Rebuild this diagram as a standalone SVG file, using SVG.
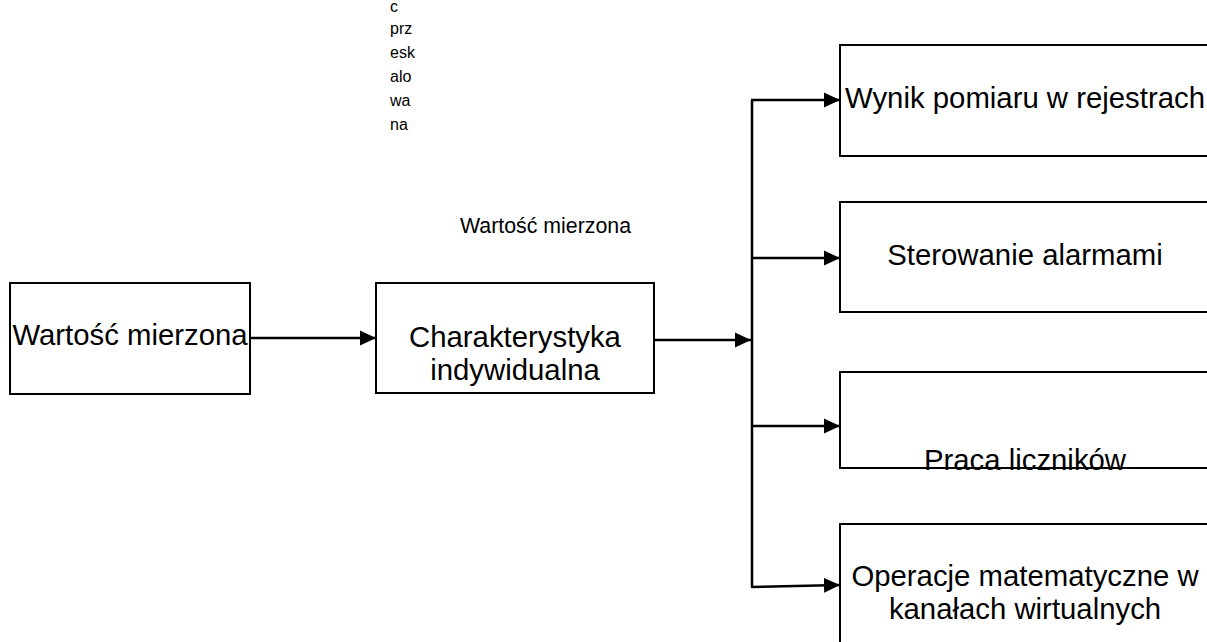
<svg xmlns="http://www.w3.org/2000/svg" width="1207" height="642" viewBox="0 0 1207 642">
<defs>
<style>
.box{fill:none;stroke:#000;stroke-width:2}
.t{font-family:"Liberation Sans",Arial,sans-serif;font-size:29.33px;fill:#000;text-anchor:middle}
.s{font-family:"Liberation Sans",Arial,sans-serif;font-size:21.33px;fill:#000}
.v{font-family:"Liberation Sans",Arial,sans-serif;font-size:16px;fill:#000}
.c{fill:none;stroke:#000;stroke-width:2.5}
</style>
<marker id="arr" markerUnits="userSpaceOnUse" markerWidth="17" markerHeight="17" viewBox="0 0 17 17" refX="16" refY="8.5" orient="auto">
<path d="M0,1 L16,8.5 L0,16 Z" fill="#000"/>
</marker>
</defs>
<rect width="1207" height="642" fill="#fff"/>
<g id="label-vertical">
<text class="v" x="390" y="12">c</text>
<text class="v" x="390" y="34">prz</text>
<text class="v" x="390" y="58">esk</text>
<text class="v" x="390" y="82">alo</text>
<text class="v" x="390" y="106">wa</text>
<text class="v" x="390" y="130">na</text>
</g>
<g id="label-wartosc">
<text class="s" x="460" y="233">Wartość mierzona</text>
</g>
<g id="connectors">
<path class="c" d="M250,338 L376,338" marker-end="url(#arr)"/>
<path class="c" d="M654,340 L751,340" marker-end="url(#arr)"/>
<path class="c" d="M752,100 L752,587"/>
<path class="c" d="M751,100 L840,100" marker-end="url(#arr)"/>
<path class="c" d="M751,258 L840,258" marker-end="url(#arr)"/>
<path class="c" d="M751,426 L840,426" marker-end="url(#arr)"/>
<path class="c" d="M751,587 L840,585" marker-end="url(#arr)"/>
</g>
<g id="node-wartosc">
<rect class="box" x="10" y="283" width="240" height="111"/>
<text class="t" x="130" y="345">Wartość mierzona</text>
</g>
<g id="node-charakterystyka">
<rect class="box" x="376" y="283" width="278" height="110"/>
<text class="t" x="515" y="347">Charakterystyka</text>
<text class="t" x="515" y="380">indywidualna</text>
</g>
<g id="node-wynik">
<rect class="box" x="840" y="45" width="372" height="111"/>
<text class="t" x="1025" y="108">Wynik pomiaru w rejestrach</text>
</g>
<g id="node-alarmy">
<rect class="box" x="840" y="202" width="372" height="110"/>
<text class="t" x="1025" y="265">Sterowanie alarmami</text>
</g>
<g id="node-liczniki">
<text class="t" x="1025" y="470">Praca liczników</text>
<rect class="box" x="840" y="372" width="372" height="96"/>
</g>
<g id="node-operacje">
<rect class="box" x="840" y="524" width="372" height="130"/>
<text class="t" x="1025" y="586">Operacje matematyczne w</text>
<text class="t" x="1025" y="619">kanałach wirtualnych</text>
</g>
</svg>
